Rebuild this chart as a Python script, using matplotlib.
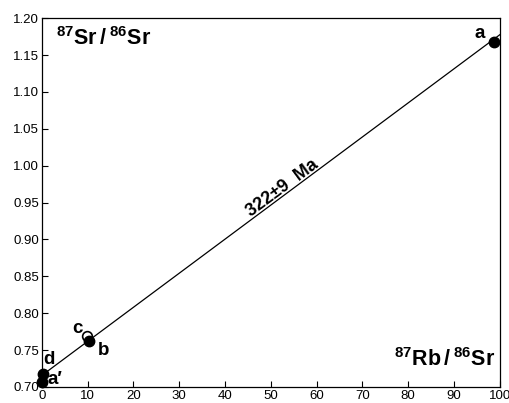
import numpy as np
import matplotlib
matplotlib.use("Agg")
import matplotlib.pyplot as plt

plt.rcParams["font.family"] = ["Liberation Sans", "DejaVu Sans"]
plt.rcParams["mathtext.fontset"] = "custom"
plt.rcParams["mathtext.rm"] = "Liberation Sans"
plt.rcParams["mathtext.bf"] = "Liberation Sans:bold"

# samples
labels = ["a", "b", "c", "d", "a\u2032"]
rb_sr = [98.7, 10.4, 9.8, 0.3, 0.1]
sr_sr = [1.1675, 0.762, 0.769, 0.718, 0.707]
filled = [True, True, False, True, True]

# isochron line
iso_x = [0, 100]
iso_y = [0.7155, 1.1775]

xticks = [0, 10, 20, 30, 40, 50, 60, 70, 80, 90, 100]
yticks = [0.70, 0.75, 0.80, 0.85, 0.90, 0.95, 1.00, 1.05, 1.10, 1.15, 1.20]

fig = plt.figure(figsize=(5.1, 4.03), dpi=100)
ax = fig.add_axes([0.082, 0.040, 0.898, 0.915])

ax.plot(iso_x, iso_y, color="black", lw=0.9, zorder=2)

for x, y, f in zip(rb_sr, sr_sr, filled):
    if f:
        ax.plot(x, y, "o", color="black", ms=7.5, zorder=4, clip_on=False)
    else:
        ax.plot(x, y, "o", mfc="white", mec="black", mew=1.2, ms=7, zorder=3)

# point labels
offsets = {"a": (-3.0, 0.012), "b": (3.0, -0.013), "c": (-2.0, 0.010),
           "d": (1.2, 0.019), "a\u2032": (2.8, 0.003)}
for lab, x, y in zip(labels, rb_sr, sr_sr):
    dx, dy = offsets[lab]
    ax.text(x + dx, y + dy, lab, fontsize=13.5, fontweight="bold",
            ha="center", va="center")

ax.text(52.5, 0.970, "322\u00b19  Ma", rotation=36.5, fontsize=13,
        fontweight="bold", ha="center", va="center", rotation_mode="anchor")

ax.text(3.0, 1.172, r"$^{\mathbf{87}}$Sr$\,$/$\,^{\mathbf{86}}$Sr", fontsize=15.5,
        fontweight="bold", ha="left", va="center")
ax.text(99.0, 0.7366, r"$^{\mathbf{87}}$Rb$\,$/$\,^{\mathbf{86}}$Sr", fontsize=15.5,
        fontweight="bold", ha="right", va="center")

ax.set_xlim(0, 100)
ax.set_ylim(0.70, 1.20)
ax.set_xticks(xticks)
ax.set_yticks(yticks)
ax.set_xticklabels([str(t) for t in xticks])
ax.set_yticklabels(["%.2f" % t for t in yticks])
ax.tick_params(direction="in", length=4, width=0.8, labelsize=9.5, pad=2)
for s in ax.spines.values():
    s.set_linewidth(0.9)

fig.savefig("out.png", dpi=100)
